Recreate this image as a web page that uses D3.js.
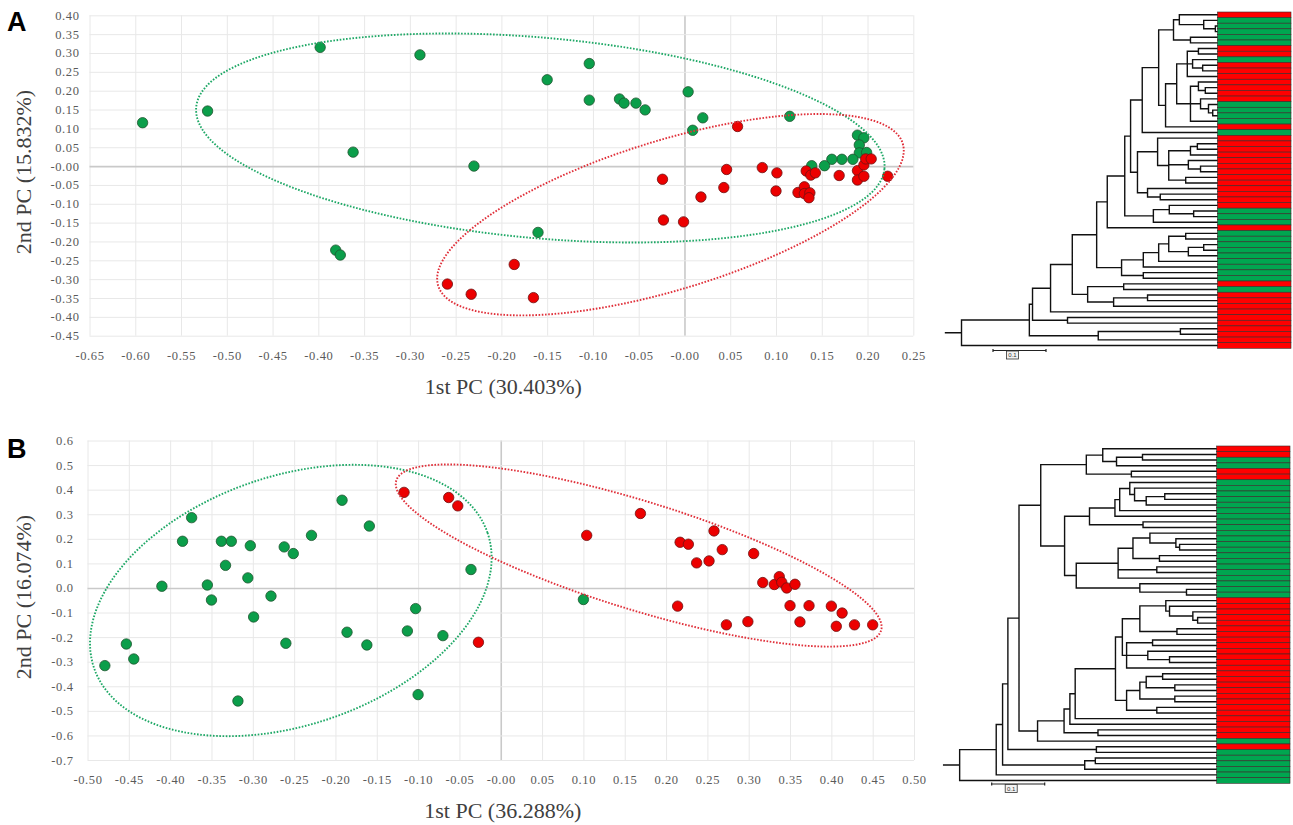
<!DOCTYPE html>
<html>
<head>
<meta charset="utf-8">
<title>PCA and clustering</title>
<script src="https://d3js.org/d3.v7.min.js"></script>
<style>
  body { margin: 0; background: #fff; }
</style>
</head>
<body>
<svg id="fig" width="1293" height="825"></svg>
<script>
// ---- panel A : PCA scores ----
const aGreen = [[-0.592,0.115],[-0.521,0.146],[-0.398,0.315],[-0.289,0.295],[-0.362,0.037],[-0.230,0.000],
  [-0.381,-0.223],[-0.376,-0.236],[-0.104,0.272],[-0.150,0.229],[-0.104,0.175],[-0.071,0.178],[-0.066,0.167],
  [-0.053,0.167],[-0.043,0.149],[0.004,0.197],[0.020,0.128],[0.009,0.095],[0.115,0.132],[0.189,0.082],
  [0.196,0.075],[0.191,0.056],[0.191,0.035],[0.199,0.036],[0.184,0.018],[0.172,0.018],[0.161,0.018],
  [0.153,0.001],[0.139,0.001],[-0.160,-0.176]];
const aRed = [[0.058,0.105],[0.046,-0.009],[-0.024,-0.035],[0.085,-0.004],[0.101,-0.018],[0.133,-0.013],
  [0.138,-0.024],[0.143,-0.018],[0.169,-0.025],[0.189,-0.012],[0.196,0.003],[0.198,0.019],[0.204,0.019],
  [0.189,-0.037],[0.196,-0.027],[0.222,-0.027],[0.018,-0.082],[0.043,-0.057],[0.100,-0.066],[0.124,-0.070],
  [0.131,-0.055],[0.131,-0.073],[0.137,-0.071],[0.136,-0.084],[-0.023,-0.143],[-0.001,-0.148],
  [-0.186,-0.261],[-0.259,-0.313],[-0.233,-0.340],[-0.165,-0.349]];
// group ellipses: [group, centre x, centre y, axis1 x, axis1 y, axis2 x, axis2 y]
const aEllipses = [["g",-0.1575,0.0745,0.376,-0.0816,-0.0097,-0.265],
                   ["r",-0.0153,-0.129,0.2538,0.1886,0.0238,-0.1892]];
const aXTicks = [-0.65,-0.60,-0.55,-0.50,-0.45,-0.40,-0.35,-0.30,-0.25,-0.20,-0.15,-0.10,-0.05,0,0.05,0.10,0.15,0.20,0.25];
const aYTicks = [0.40,0.35,0.30,0.25,0.20,0.15,0.10,0.05,0,-0.05,-0.10,-0.15,-0.20,-0.25,-0.30,-0.35,-0.40,-0.45];

// ---- panel B : PCA scores ----
const bGreen = [[-0.410,0.007],[-0.385,0.190],[-0.374,0.286],[-0.338,0.190],[-0.326,0.190],[-0.333,0.092],
  [-0.303,0.172],[-0.355,0.012],[-0.350,-0.049],[-0.306,0.041],[-0.278,-0.033],[-0.299,-0.118],[-0.262,0.167],
  [-0.251,0.140],[-0.229,0.214],[-0.192,0.357],[-0.159,0.252],[-0.036,0.075],[-0.103,-0.084],[-0.479,-0.316],
  [-0.453,-0.228],[-0.444,-0.289],[-0.318,-0.460],[-0.260,-0.225],[-0.186,-0.180],[-0.162,-0.232],
  [-0.113,-0.175],[-0.100,-0.434],[-0.070,-0.194],[0.100,-0.047]];
const bRed = [[-0.117,0.389],[-0.063,0.368],[-0.052,0.334],[-0.027,-0.221],[0.104,0.214],[0.169,0.303],
  [0.217,0.186],[0.227,0.178],[0.258,0.232],[0.268,0.156],[0.237,0.102],[0.252,0.110],[0.306,0.140],
  [0.317,0.022],[0.331,0.014],[0.337,0.046],[0.340,0.023],[0.346,0.000],[0.356,0.015],[0.214,-0.074],
  [0.350,-0.072],[0.373,-0.072],[0.400,-0.074],[0.413,-0.102],[0.273,-0.150],[0.299,-0.137],[0.362,-0.138],
  [0.406,-0.156],[0.428,-0.150],[0.450,-0.150]];
const bEllipses = [["g",-0.254,-0.051,0.238,0.2755,0.049,-0.4785],
                   ["r",0.1669,0.132,0.2933,-0.3052,-0.0194,-0.2103]];
const bXTicks = [-0.50,-0.45,-0.40,-0.35,-0.30,-0.25,-0.20,-0.15,-0.10,-0.05,0,0.05,0.10,0.15,0.20,0.25,0.30,0.35,0.40,0.45,0.50];
const bYTicks = [0.6,0.5,0.4,0.3,0.2,0.1,0,-0.1,-0.2,-0.3,-0.4,-0.5,-0.6,-0.7];

// ---- dendrograms: [height, child, child...], leaf = group ----
const treeA =
[0.483,
  [0.355,
    [0.349,
      [0.315,
        [0.274,
          [0.228,
            [0.208,
              [0.175,
                [0.164,
                  [0.142,
                    [0.111,
                      [0.083,
                        [0.072, "r", [0.026, "g", [0.004, "g", "g"]]],
                        [0.051, "g", "g"]],
                      [0.098,
                        [0.077,
                          [0.057, [0.036, "r", "r"], [0.047, "g", [0.028, "r", "r"]], "r"],
                          [0.051, [0.036, "r", [0.023, "r", "r"]], [0.032, "r", [0.017, "g", [0.009, "g", "g"]]], "g"]],
                        "r"]],
                    "g"],
                  [0.151,
                    [0.113, "r", [0.092, [0.051, [0.038, "r", "r"], "r"], [0.055, "r", [0.032, "r", "r"]], [0.060, "r", "r"]]],
                    [0.132, "r", [0.108, "r", "r"]]]],
                [0.121, [0.091, "r", [0.045, "g", "g"]], "g"]],
              "r"],
            [0.181,
              [0.140, [0.111, [0.092, [0.060, "g", "g"], [0.055, [0.026, "g", "g"], "g"]], "g"], "g"],
              [0.140, "g", "g"]]],
          [0.245, [0.177, "r", "g"], [0.196, [0.132, "r", "r"], "r"]]],
        "r"],
      [0.283, "r", "r"]],
    [0.225, [0.070, "r", "r"], "r"]],
  "r"];

const treeB =
[0.485,
  [0.416,
    [0.404,
      [0.394,
        [0.373,
          [0.332,
            [0.246,
              [0.215, "r", [0.189, [0.140, "r", "g"], "g"]],
              [0.161, "r", "r"]],
            [0.287,
              [0.240,
                [0.192,
                  [0.183, [0.164, "g", [0.155, "g", [0.133, [0.098, "g", "g"], "g"]]], "g"],
                  "g"],
                [0.139, "g", "g"]],
              [0.265,
                [0.186,
                  [0.158, [0.126, "g", [0.077, "g", [0.070, "g", "g"]]], [0.108, "g", "g"]],
                  [0.113, "g", "g"],
                  "g"],
                [0.145, "g", [0.057, "g", "g"]]]]],
          [0.338,
            [0.288,
              [0.277,
                [0.267,
                  [0.191,
                    [0.178,
                      [0.145, [0.096, "r", [0.089, "r", [0.045, "r", [0.036, "r", "r"]]]], [0.075, "r", "r"]],
                      [0.170, [0.121, "r", "r"], [0.130, "r", [0.089, "r", "r"]], "r"]],
                    [0.170,
                      [0.145, [0.133, [0.102, "r", "r"], [0.079, "r", "r"]], [0.079, "r", "r"]],
                      [0.113, "r", "r"]]],
                  "r"],
                "r"],
              [0.224, "r", "r"]],
            "g"]],
        [0.227, "r", "g"]],
      [0.249, [0.229, "g", "g"], "g"]],
    "g"],
  "g"];

const svg = d3.select("#fig");
svg.append("rect").attr("width", 1293).attr("height", 825).attr("fill", "#fff");

const serif = "'Liberation Serif', 'Times New Roman', serif";
const dotFill = { g: "#0b9e4a", r: "#ec0000" };
const dotLine = { g: "#1f5530", r: "#6e1212" };
const ringCol = { g: "#1ea866", r: "#e0303a" };
const heatCol = { g: "#00a650", r: "#ff0000" };

const isZero = v => Math.abs(v) < 1e-9;
const fmt2 = v => isZero(v) ? "-0.00" : v.toFixed(2);
const fmt1 = v => isZero(v) ? "0.0" : v.toFixed(1);

function drawScatter(p) {
  const g = svg.append("g");
  const x = d3.scaleLinear().domain(d3.extent(p.xTicks)).range([p.left, p.right]);
  const y = d3.scaleLinear().domain(d3.extent(p.yTicks)).range([p.bottom, p.top]);

  // grid
  const gx = g.append("g").attr("transform", `translate(0,${p.bottom})`)
    .call(d3.axisBottom(x).tickValues(p.xTicks).tickSize(-(p.bottom - p.top)).tickFormat(""));
  const gy = g.append("g").attr("transform", `translate(${p.left},0)`)
    .call(d3.axisLeft(y).tickValues(p.yTicks).tickSize(-(p.right - p.left)).tickFormat(""));
  [gx, gy].forEach(a => {
    a.select(".domain").remove();
    a.selectAll("line")
      .attr("stroke", d => isZero(d) ? "#c9c9c9" : "#e8e8e8")
      .attr("stroke-width", d => isZero(d) ? 1.6 : 1);
  });
  // tick labels
  const lx = g.append("g").attr("transform", `translate(0,${p.bottom})`)
    .call(d3.axisBottom(x).tickValues(p.xTicks).tickSize(0).tickPadding(p.padX).tickFormat(p.xFmt));
  const ly = g.append("g").attr("transform", `translate(${p.left},0)`)
    .call(d3.axisLeft(y).tickValues(p.yTicks).tickSize(0).tickPadding(p.padY).tickFormat(p.yFmt));
  [lx, ly].forEach(a => {
    a.select(".domain").remove();
    a.attr("font-family", serif).attr("font-size", 12.5);
    a.selectAll("text").attr("fill", "#5a5a5a").style("letter-spacing", "0.6px");
  });

  // points
  [["g", p.green], ["r", p.red]].forEach(([k, pts]) => {
    g.append("g").selectAll("circle").data(pts).join("circle")
      .attr("cx", d => x(d[0])).attr("cy", d => y(d[1])).attr("r", 5.2)
      .attr("fill", dotFill[k]).attr("stroke", dotLine[k]).attr("stroke-width", 0.8);
  });

  // ellipses
  const line = d3.line().x(d => x(d[0])).y(d => y(d[1])).curve(d3.curveLinearClosed);
  p.ellipses.forEach(e => {
    const pts = d3.range(0, 2 * Math.PI, Math.PI / 90).map(t =>
      [e[1] + e[3] * Math.cos(t) + e[5] * Math.sin(t), e[2] + e[4] * Math.cos(t) + e[6] * Math.sin(t)]);
    g.append("path").attr("d", line(pts)).attr("fill", "none")
      .attr("stroke", ringCol[e[0]]).attr("stroke-width", 1.9)
      .attr("stroke-dasharray", "1.6,1.6");
  });

  // titles
  g.append("text").attr("x", (p.left + p.right) / 2 + 2).attr("y", p.xTitleY)
    .attr("text-anchor", "middle").attr("font-family", serif).attr("font-size", 22)
    .attr("fill", "#404040").text(p.xTitle);
  g.append("text").attr("transform", `translate(31,${p.yTitleY}) rotate(-90)`)
    .attr("text-anchor", "middle").attr("font-family", serif).attr("font-size", 22)
    .attr("fill", "#404040").text(p.yTitle);
  g.append("text").attr("x", 7).attr("y", p.letterY)
    .attr("font-family", "'Liberation Sans', Arial, sans-serif").attr("font-weight", "bold")
    .attr("font-size", 27).attr("fill", "#000").text(p.letter);
}

function drawTree(data, p) {
  const root = d3.hierarchy(data, d => Array.isArray(d) ? d.slice(1) : null);
  const leaves = root.leaves();
  const y = d3.scaleBand().domain(d3.range(leaves.length)).range([p.top, p.bottom]);
  const x = d3.scaleLinear().domain([0, 0.1]).range([p.leafX, p.leafX - 53]);
  leaves.forEach((l, i) => { l.py = y(i) + y.bandwidth() / 2; l.px = p.leafX; });
  root.eachAfter(n => {
    if (n.children) {
      n.px = x(n.data[0]);
      n.py = (n.children[0].py + n.children[n.children.length - 1].py) / 2;
    }
  });
  let d = `M${root.px - 16},${root.py}H${root.px}`;
  root.each(n => {
    if (!n.children) return;
    const c = n.children;
    d += `M${n.px},${c[0].py}V${c[c.length - 1].py}`;
    c.forEach(k => { d += `M${n.px},${k.py}H${k.px}`; });
  });
  const g = svg.append("g");
  g.append("path").attr("d", d).attr("fill", "none").attr("stroke", "#111")
    .attr("stroke-width", 1.4).attr("stroke-linecap", "square");

  // group colour strip
  g.append("g").selectAll("rect").data(leaves).join("rect")
    .attr("x", p.leafX).attr("width", p.heatW)
    .attr("y", (l, i) => y(i)).attr("height", y.bandwidth())
    .attr("fill", l => heatCol[l.data]).attr("stroke", "#3a2a2a").attr("stroke-width", 0.6);

  // scale bar
  const sb = g.append("g").attr("stroke", "#222").attr("stroke-width", 1.2);
  const bx0 = p.barX, bx1 = p.barX + (x(0) - x(0.1));
  sb.append("line").attr("x1", bx0).attr("x2", bx1).attr("y1", p.barY).attr("y2", p.barY);
  sb.append("line").attr("x1", bx0).attr("x2", bx0).attr("y1", p.barY - 1.5).attr("y2", p.barY + 1.5);
  sb.append("line").attr("x1", bx1).attr("x2", bx1).attr("y1", p.barY - 1.5).attr("y2", p.barY + 1.5);
  const cx = (bx0 + bx1) / 2 - 7;
  g.append("rect").attr("x", cx - 6).attr("y", p.barY + 0.5).attr("width", 12).attr("height", 8)
    .attr("fill", "#f2f2f2").attr("stroke", "#333").attr("stroke-width", 0.8);
  g.append("text").attr("x", cx).attr("y", p.barY + 6.8).attr("text-anchor", "middle")
    .attr("font-family", "'Liberation Sans', Arial, sans-serif").attr("font-size", 6)
    .attr("fill", "#333").text("0.1");
}

drawScatter({ left: 89.5, right: 913.3, top: 15.3, bottom: 335.7,
  xTicks: aXTicks, yTicks: aYTicks, xFmt: fmt2, yFmt: fmt2, padX: 15, padY: 10,
  green: aGreen, red: aRed, ellipses: aEllipses,
  xTitle: "1st PC (30.403%)", xTitleY: 394, yTitle: "2nd PC (15.832%)", yTitleY: 172,
  letter: "A", letterY: 31 });

drawScatter({ left: 87.5, right: 914, top: 440.5, bottom: 760,
  xTicks: bXTicks, yTicks: bYTicks, xFmt: fmt2, yFmt: fmt1, padX: 15.5, padY: 14,
  green: bGreen, red: bRed, ellipses: bEllipses,
  xTitle: "1st PC (36.288%)", xTitleY: 818, yTitle: "2nd PC (16.074%)", yTitleY: 597,
  letter: "B", letterY: 458 });

drawTree(treeA, { leafX: 1217.5, top: 12, bottom: 348.3, heatW: 73.5, barX: 993, barY: 350.5 });
drawTree(treeB, { leafX: 1216.7, top: 446, bottom: 783.3, heatW: 73.3, barX: 991.7, barY: 784 });
</script>
</body>
</html>
